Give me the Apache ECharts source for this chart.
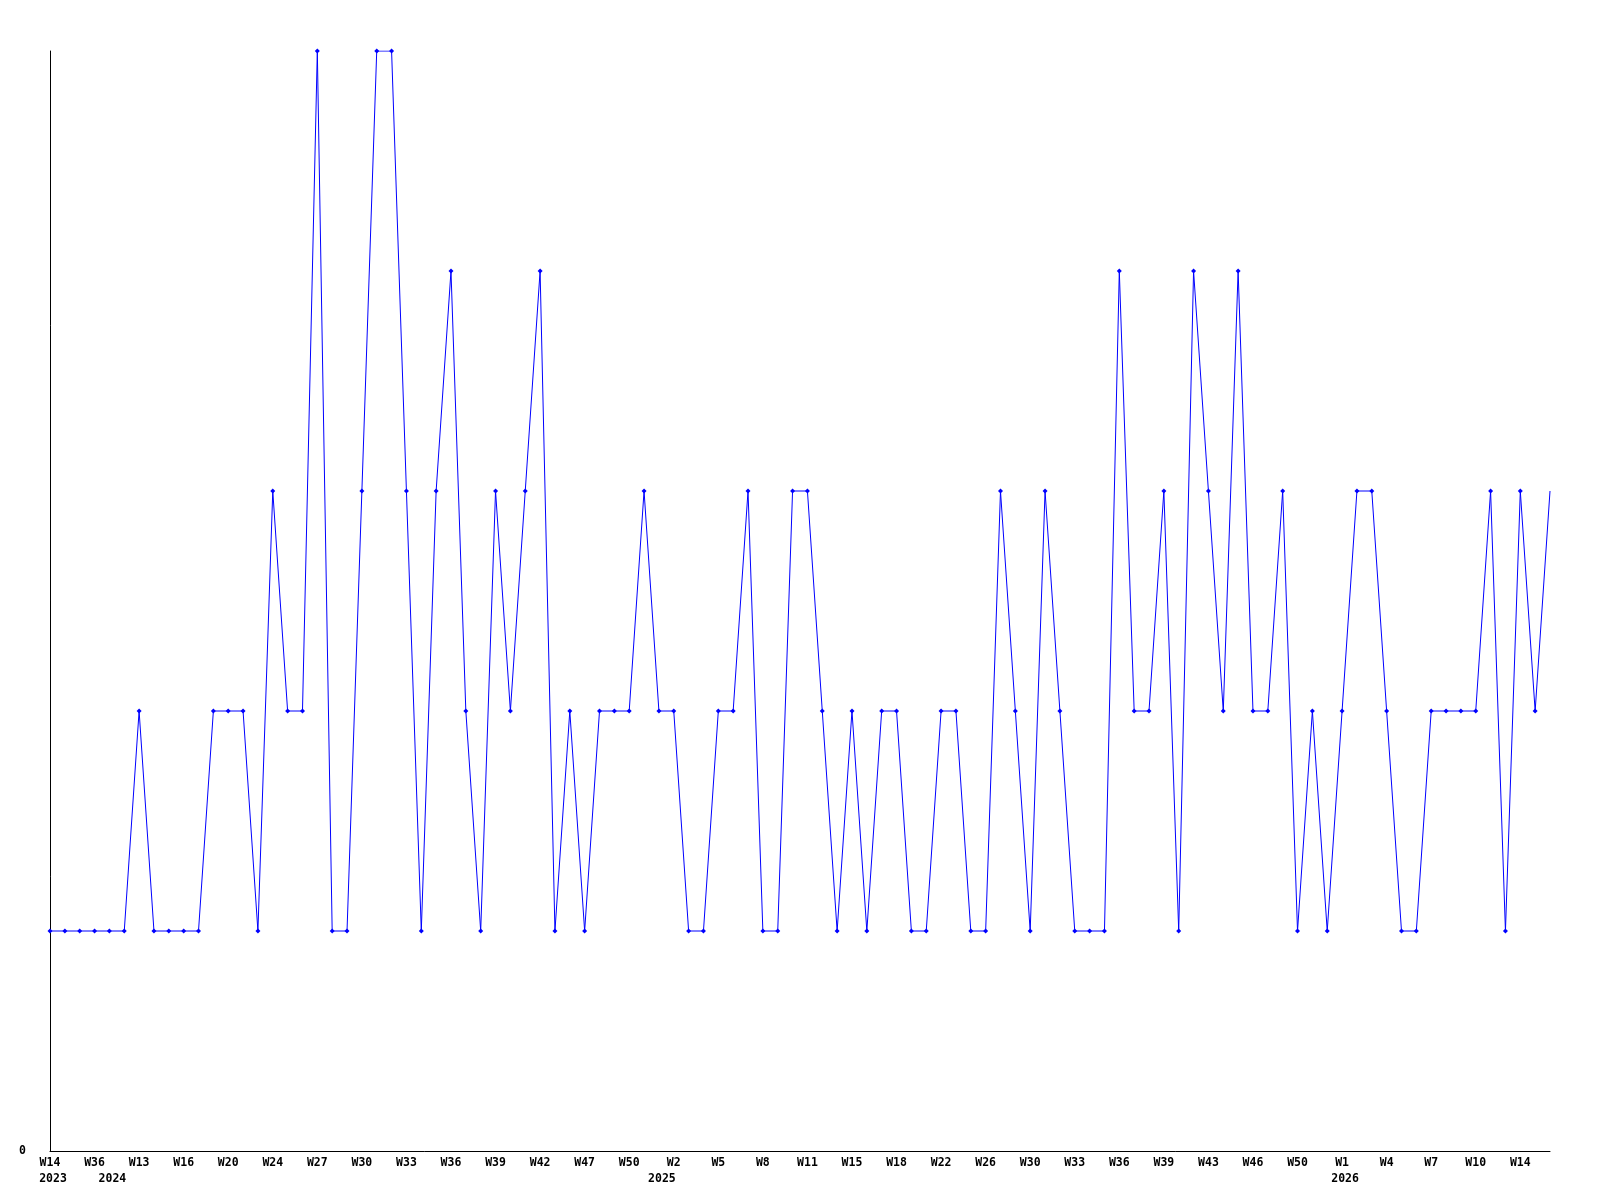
<!DOCTYPE html>
<html><head><meta charset="utf-8">
<script src="https://cdn.jsdelivr.net/npm/echarts@6/dist/echarts.min.js"></script>
<style>html,body{margin:0;padding:0;background:#fff}#c{width:1600px;height:1200px}</style>
</head><body><div id="c"></div>
<script>
// Week tick labels: one label for every third data point
const weekLabels = ['W14','W36','W13','W16','W20','W24','W27','W30','W33','W36','W39','W42',
  'W47','W50','W2','W5','W8','W11','W15','W18','W22','W26','W30','W33','W36','W39','W43',
  'W46','W50','W1','W4','W7','W10','W14'];
// Year labels and the data-point index under which they sit
const yearLabels = ['2023','2024','2025','2026'];
const yearIndex = [0, 4, 41, 87];
// Series values (102 points)
const values = [
  1,1,1,1,1,1,2,1,1,1,1,2,2,2,1,3,2,2,5,1,
  1,3,5,5,3,1,3,4,2,1,3,2,3,4,1,2,1,2,2,2,
  3,2,2,1,1,2,2,3,1,1,3,3,2,1,2,1,2,2,1,1,
  2,2,1,1,3,2,1,3,2,1,1,1,4,2,2,3,1,4,3,2,
  4,2,2,3,1,2,1,2,3,3,2,1,1,2,2,2,2,3,1,3,
  2,3
];

const categories = values.map((v, i) => (i % 3 === 0 && weekLabels[i / 3]) ? weekLabels[i / 3] : '');
const yearCats = values.map((v, i) => { const k = yearIndex.indexOf(i); return k >= 0 ? yearLabels[k] : ''; });
const font = { fontFamily: 'DejaVu Sans Mono', fontWeight: 'bold', fontSize: 11.5, color: '#000' };

const chart = echarts.init(document.getElementById('c'));
chart.setOption({
  animation: false,
  backgroundColor: '#fff',
  grid: { left: 50, right: 50, top: 51, bottom: 49, containLabel: false },
  xAxis: [{
    type: 'category', data: categories, boundaryGap: false,
    axisLine: { lineStyle: { color: '#000', width: 1 } },
    axisTick: { show: false },
    axisLabel: Object.assign({ interval: 0, margin: 6 }, font),
    splitLine: { show: false }
  }, {
    type: 'category', data: yearCats, boundaryGap: false, position: 'bottom', offset: 16,
    axisLine: { show: false }, axisTick: { show: false },
    axisLabel: Object.assign({ interval: 0, margin: 6, padding: [0, 0, 0, 6] }, font),
    splitLine: { show: false }
  }],
  yAxis: {
    type: 'value', min: 0, max: 5, interval: 1,
    axisLine: { show: true, lineStyle: { color: '#000', width: 1 } },
    axisTick: { show: false },
    splitLine: { show: false },
    axisLabel: Object.assign({ margin: 24, formatter: v => v === 0 ? '0' : '' }, font)
  },
  series: [{
    type: 'line', xAxisIndex: 0,
    data: values.map((v, i) => i === values.length - 1 ? { value: v, symbolSize: 0 } : v),
    symbol: 'diamond', symbolSize: 5, showAllSymbol: true,
    lineStyle: { color: '#0000ff', width: 1 },
    itemStyle: { color: '#0000ff' },
    emphasis: { disabled: true }
  }]
});
</script></body></html>
